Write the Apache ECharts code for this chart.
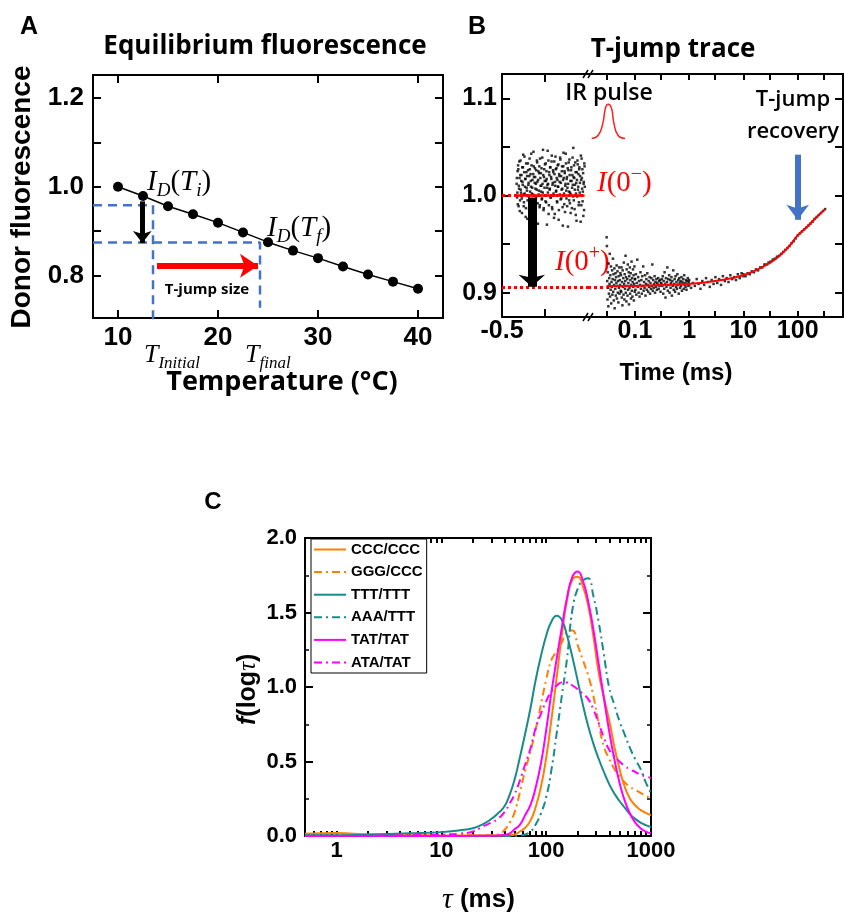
<!DOCTYPE html>
<html>
<head>
<meta charset="utf-8">
<script src="https://cdn.jsdelivr.net/npm/echarts@6/dist/echarts.min.js"></script>
<style>
  html, body { margin: 0; padding: 0; background: #fff; }
  #chart { width: 844px; height: 913px; }
</style>
</head>
<body>
<div id="chart"></div>
<script>
const SANS = '"Liberation Sans", Arial, sans-serif';
const OPEN = '"Open Sans", sans-serif';
const SERIF = '"Liberation Serif", "DejaVu Serif", serif';

// ---- panel A: equilibrium donor fluorescence ----
const tempC = [10, 12.5, 15, 17.5, 20, 22.5, 25, 27.5, 30, 32.5, 35, 37.5, 40];
const donorF = [1.0, 0.979, 0.956, 0.938, 0.919, 0.897, 0.875, 0.856, 0.839, 0.820, 0.802, 0.786, 0.770];
const tempLabels = [10, 20, 30, 40];
const donorLabels = [0.8, 1.0, 1.2];
const donorTicks = [0.8, 0.9, 1.0, 1.1, 1.2];
const guideInitial = [[7.5, 0.958], [13.5, 0.958], [13.5, 0.688]];
const guideFinal = [[7.5, 0.874], [24.2, 0.874], [24.2, 0.727]];

// ---- panel B: T-jump trace ----
// before the pulse (linear time, ms)
const preF = [
  1.012, 0.998, 1.025, 1.031, 0.989, 1.007, 1.018, 0.995, 1.036, 1.003,
  1.021, 0.982, 1.014, 1.029, 1.001, 0.993, 1.040, 1.009, 1.017, 0.987,
  1.024, 1.005, 0.976, 1.033, 1.011, 0.999, 1.020, 1.027, 0.991, 1.015,
  1.043, 1.002, 1.008, 0.984, 1.022, 1.030, 0.996, 1.013, 1.019, 0.979,
  1.026, 1.006, 1.034, 0.992, 1.016, 1.001, 1.023, 0.988, 1.038, 1.010,
  1.004, 1.028, 0.997, 1.012, 1.047, 0.985, 1.019, 1.008, 1.032, 0.994,
  1.015, 1.025, 0.970, 1.011, 1.003, 1.036, 0.990, 1.021, 1.007, 1.029,
  0.998, 1.017, 1.041, 0.986, 1.013, 1.024, 1.000, 1.035, 0.981, 1.010,
  1.027, 1.005, 1.018, 0.993, 1.031, 1.009, 0.975, 1.022, 1.014, 1.039,
  0.996, 1.020, 1.006, 1.030, 0.988, 1.016, 1.044, 1.002, 1.025, 0.983,
  1.012, 1.033, 0.997, 1.019, 1.008, 0.968, 1.026, 1.004, 1.037, 0.992,
  1.015, 1.001, 1.029, 0.987, 1.021, 1.011, 1.049, 0.995, 1.018, 1.006,
  1.034, 0.980, 1.013, 1.024, 0.999, 1.032, 1.009, 0.990, 1.027, 1.003,
  1.020, 0.973, 1.016, 1.038, 1.007, 0.994, 1.023, 1.012, 0.985, 1.030,
  1.018, 1.003, 0.991, 1.027, 1.010, 1.035, 0.984, 1.021, 1.006, 1.015,
  0.997, 1.029, 1.011, 1.042, 0.989, 1.024, 1.002, 1.017, 0.978, 1.033,
  1.008, 1.020, 0.995, 1.026, 1.013, 0.986, 1.038, 1.004, 1.022, 1.009,
  1.031, 0.992, 1.016, 1.001, 1.045, 1.019, 0.983, 1.028, 1.007, 1.012,
  0.999, 1.036, 1.014, 0.971, 1.025, 1.005, 1.030, 0.990, 1.018, 1.023,
  1.010, 0.996, 1.039, 1.003, 1.021, 0.987, 1.027, 1.015, 1.000, 1.033,
  0.993, 1.017, 1.008, 1.046, 1.012, 0.981, 1.024, 1.006, 1.029, 0.998,
  1.019, 1.035, 0.988, 1.011, 1.026, 1.002, 0.977, 1.022, 1.014, 1.040,
  1.004, 1.028, 0.994, 1.016, 1.009, 1.032, 0.985, 1.020, 1.001, 1.037,
  1.013, 0.997, 1.025, 1.007, 0.969, 1.030, 1.018, 0.991, 1.023, 1.010,
  1.043, 1.005, 1.017, 0.989, 1.028, 1.012, 1.034, 0.995, 1.021, 1.003,
  0.982, 1.026, 1.015, 1.008, 1.039, 0.999, 1.019, 1.031, 0.986, 1.011,
  1.024, 1.002, 0.974, 1.016, 1.036, 1.006, 1.022, 0.993, 1.029, 1.013,
  1.000, 1.041, 0.990, 1.018, 1.027, 1.004, 0.979, 1.014, 1.033, 1.009
];
const preStart = -0.415, preEnd = -0.02;
// after the pulse, log-binned
const post1 = [ // 0.03 - 0.1 ms
  0.957, 0.948, 0.912, 0.893, 0.921, 0.905, 0.886, 0.930, 0.899, 0.915,
  0.909, 0.940, 0.896, 0.918, 0.903, 0.927, 0.889, 0.911, 0.906, 0.923,
  0.898, 0.914, 0.935, 0.901, 0.919, 0.892, 0.908, 0.925, 0.884, 0.913,
  0.904, 0.920, 0.897, 0.916, 0.910, 0.928, 0.894, 0.907, 0.922, 0.900,
  0.912, 0.890, 0.917, 0.905, 0.926, 0.899, 0.913, 0.908, 0.920, 0.902,
  0.918, 0.901, 0.926, 0.895, 0.911, 0.887, 0.923, 0.906, 0.915, 0.898,
  0.931, 0.909, 0.893, 0.919, 0.904, 0.912, 0.938, 0.900, 0.916, 0.891,
  0.924, 0.907, 0.914, 0.897, 0.929, 0.903, 0.910, 0.921, 0.888, 0.917,
  0.905, 0.926, 0.899, 0.913, 0.920, 0.894, 0.908, 0.932, 0.902, 0.915,
  0.896, 0.911, 0.924, 0.906, 0.918, 0.892, 0.909, 0.927, 0.901, 0.914
];
const post2 = [ // 0.1 - 1 ms
  0.914, 0.903, 0.919, 0.898, 0.910, 0.934, 0.906, 0.916, 0.900, 0.912,
  0.896, 0.908, 0.921, 0.904, 0.913, 0.899, 0.917, 0.907, 0.927, 0.902,
  0.911, 0.905, 0.918, 0.897, 0.909, 0.914, 0.903, 0.920, 0.908, 0.901,
  0.912, 0.906, 0.916, 0.899, 0.910, 0.904, 0.915, 0.907, 0.929, 0.902,
  0.913, 0.905, 0.909, 0.917, 0.900, 0.911, 0.906, 0.914, 0.903, 0.910,
  0.908, 0.915, 0.904, 0.912, 0.907, 0.913, 0.901, 0.910, 0.909, 0.914,
  0.907, 0.917, 0.899, 0.912, 0.904, 0.921, 0.909, 0.895, 0.915, 0.906,
  0.911, 0.926, 0.902, 0.914, 0.908, 0.918, 0.900, 0.913, 0.905, 0.910,
  0.916, 0.897, 0.912, 0.907, 0.923, 0.903, 0.909, 0.914, 0.901, 0.917,
  0.906, 0.911, 0.904, 0.919, 0.908, 0.913, 0.899, 0.915, 0.910, 0.905,
  0.912, 0.907, 0.916, 0.902, 0.911, 0.909, 0.914, 0.904, 0.918, 0.908,
  0.910, 0.906, 0.913, 0.903, 0.912, 0.909, 0.915, 0.907, 0.911, 0.908
];
const post3 = [ // 1 - 10 ms
  0.913, 0.905, 0.910, 0.907, 0.914, 0.909, 0.904, 0.912, 0.908, 0.915,
  0.911, 0.906, 0.913, 0.909, 0.916, 0.910, 0.914, 0.908, 0.917, 0.912,
  0.915, 0.911, 0.918, 0.914, 0.916, 0.913, 0.919, 0.915, 0.920, 0.917
];
const post4 = [ // 10 - 320 ms
  0.919, 0.917, 0.920, 0.919, 0.922, 0.921, 0.924, 0.923, 0.926, 0.926,
  0.929, 0.929, 0.931, 0.932, 0.934, 0.935, 0.937, 0.938, 0.940, 0.942,
  0.944, 0.946, 0.948, 0.951, 0.953, 0.956, 0.959, 0.961, 0.963, 0.965,
  0.967, 0.969, 0.971, 0.973, 0.976, 0.978, 0.980, 0.982, 0.984, 0.986
];
const postRanges = [[0.03, 0.1], [0.1, 1], [1, 10], [10, 320]];
const fitT = [0.03, 0.1, 0.3, 1, 3, 10, 20, 40, 70, 100, 150, 200, 320];
const fitF = [0.907, 0.907, 0.908, 0.909, 0.912, 0.918, 0.925, 0.935, 0.948, 0.959, 0.968, 0.975, 0.986];
const preFitT = [-0.415, -0.02];
const preFitF = [1.0, 1.0];
const pulseT = [0.0159, 0.021, 0.0254, 0.028, 0.030, 0.0322, 0.0346, 0.0376, 0.041, 0.0486, 0.0654];
const pulseF = [1.0587, 1.062, 1.074, 1.088, 1.093, 1.094, 1.093, 1.088, 1.074, 1.062, 1.0587];
const timeLabels = [0.1, 1, 10, 100];
const timeTicks = [0.03, 0.1, 0.3, 1, 3, 10, 30, 100, 300];
const traceLabels = [0.9, 1.0, 1.1];
const traceTicks = [0.9, 0.95, 1.0, 1.05, 1.1];

// ---- panel C: lifetime distributions f(log tau) ----
const tauGrid = [0.5, 1, 2, 5, 10, 15, 20, 25, 30, 35, 40, 45, 50, 56, 63, 71, 79, 89, 100, 112,
  126, 141, 158, 178, 200, 224, 251, 282, 316, 355, 398, 447, 501, 562, 631, 708, 794, 891, 1000];
const cccF = [0.015, 0.02, 0.01, 0.005, 0.004, 0.003, 0.003, 0.003, 0.003, 0.003,
  0.005, 0.006, 0.01, 0.03, 0.055, 0.105, 0.19, 0.328, 0.525, 0.777,
  1.065, 1.35, 1.585, 1.722, 1.74, 1.675, 1.55, 1.34, 1.10, 0.93,
  0.78, 0.60, 0.45, 0.33, 0.25, 0.205, 0.175, 0.155, 0.14];
const gggF = [0.005, 0.005, 0.005, 0.005, 0.005, 0.005, 0.005, 0.005, 0.005, 0.01,
  0.04, 0.09, 0.16, 0.29, 0.44, 0.57, 0.71, 0.88, 1.05, 1.18,
  1.24, 1.30, 1.37, 1.38, 1.28, 1.18, 1.08, 0.94, 0.76, 0.60,
  0.52, 0.45, 0.40, 0.36, 0.33, 0.31, 0.29, 0.27, 0.25];
const tttF = [0.005, 0.005, 0.01, 0.018, 0.026, 0.038, 0.052, 0.08, 0.115, 0.155,
  0.20, 0.28, 0.38, 0.525, 0.686, 0.862, 1.04, 1.206, 1.344, 1.438,
  1.479, 1.45, 1.345, 1.20, 1.04, 0.88, 0.74, 0.62, 0.52, 0.43,
  0.35, 0.285, 0.235, 0.19, 0.145, 0.115, 0.09, 0.073, 0.06];
const aaaF = [0, 0, 0, 0, 0, 0, 0, 0, 0, 0,
  0, 0, 0, 0.003, 0.01, 0.03, 0.075, 0.15, 0.26, 0.44,
  0.69, 0.94, 1.19, 1.52, 1.66, 1.715, 1.73, 1.61, 1.44, 1.22,
  1.00, 0.88, 0.77, 0.68, 0.59, 0.515, 0.45, 0.36, 0.29];
const tatF = [0, 0, 0, 0, 0, 0, 0.001, 0.001, 0.002, 0.003,
  0.0085, 0.018, 0.045, 0.075, 0.14, 0.21, 0.32, 0.485, 0.71, 0.96,
  1.19, 1.40, 1.60, 1.74, 1.775, 1.713, 1.578, 1.386, 1.161, 0.928,
  0.708, 0.515, 0.357, 0.236, 0.149, 0.09, 0.052, 0.03, 0.018];
const ataF = [0, 0, 0.002, 0.005, 0.01, 0.016, 0.03, 0.065, 0.09, 0.118,
  0.16, 0.22, 0.28, 0.37, 0.48, 0.59, 0.72, 0.82, 0.905, 0.97,
  1.01, 1.03, 1.03, 1.01, 0.985, 0.955, 0.92, 0.85, 0.76, 0.66,
  0.58, 0.535, 0.50, 0.47, 0.447, 0.43, 0.41, 0.40, 0.39];
const tauLabels = [1, 10, 100, 1000];
const tauTicks = [0.6, 0.7, 0.8, 0.9, 1, 2, 3, 4, 5, 6, 7, 8, 9, 10, 20, 30, 40, 50, 60, 70, 80, 90,
  100, 200, 300, 400, 500, 600, 700, 800, 900, 1000];

const ORANGE = '#ff7f00', TEAL = '#1a8a8a', MAGENTA = '#ff00ff';
const DASHDOT = [8, 4, 2, 4];

const zip = (xs, ys) => xs.map((x, i) => [x, ys[i]]);

// sampling clock of the recorder: evenly spaced (linear before, log-binned after)
const preData = preF.map((f, i) => [preStart + (preEnd - preStart) * (i % 140) / 139 + (i >= 140 ? 0.0014 : 0), f]);
const postData = [];
[post1, post2, post3, post4].forEach((seg, k) => {
  const [lo, hi] = postRanges[k];
  seg.forEach((f, i) => postData.push([lo * Math.pow(hi / lo, i / (seg.length - 1)), f]));
});

function ax(o) {
  const a = {
    type: o.type || 'value', gridIndex: o.grid, position: o.pos, min: o.min, max: o.max,
    axisLine: { show: o.line !== false, onZero: false, lineStyle: { color: '#000', width: 2 } },
    axisTick: o.ticks ? { show: true, inside: true, length: o.len || 8, customValues: o.ticks,
      lineStyle: { color: '#000', width: 2 } } : { show: false },
    axisLabel: o.labels ? { show: true, customValues: o.labels, formatter: o.fmt || (v => String(v)), color: '#000',
      fontFamily: SANS, fontWeight: 'bold', fontSize: o.fs || 22, margin: o.margin || 8 } : { show: false },
    splitLine: { show: false }
  };
  if (a.type === 'log') a.logBase = 10;
  return a;
}
const fix1 = v => Number(v).toFixed(1);

function txt(text, x, y, font, extra) {
  return {
    type: 'text', x, y, silent: true,
    style: Object.assign({ text, font, fill: '#000', align: 'center', verticalAlign: 'middle',
      textAlign: 'center', textVerticalAlign: 'middle' }, extra || {})
  };
}
function rich(text, x, y, richStyles, color, rotation) {
  const el = {
    type: 'text', x, y, silent: true,
    style: { text, rich: richStyles, fill: color || '#000', align: 'left', verticalAlign: 'middle',
      textAlign: 'left', textVerticalAlign: 'middle' }
  };
  if (rotation) el.rotation = rotation;
  return el;
}
const mathRich = (size, color) => ({
  i: { font: `italic ${size}px ${SERIF}`, fill: color, lineHeight: size + 8, verticalAlign: 'middle' },
  p: { font: `${size}px ${SERIF}`, fill: color, lineHeight: size + 8, verticalAlign: 'middle' },
  sub: { font: `italic ${Math.round(size * 0.65)}px ${SERIF}`, fill: color, lineHeight: size + 8, verticalAlign: 'bottom' },
  sup: { font: `${Math.round(size * 0.7)}px ${SERIF}`, fill: color, lineHeight: size + 8, verticalAlign: 'top' }
});

function arrow(xi, yi, from, to, color, width, head) {
  return {
    type: 'line', xAxisIndex: xi, yAxisIndex: yi, data: [], clip: false, silent: true, z: 6,
    markLine: {
      silent: true, animation: false, symbol: ['none', 'arrow'], symbolSize: head,
      label: { show: false },
      lineStyle: { color, width, type: 'solid' },
      data: [[{ coord: from }, { coord: to }]]
    }
  };
}
function curve(name, f, color, dashed) {
  return {
    name, type: 'line', xAxisIndex: 6, yAxisIndex: 4, data: zip(tauGrid, f), symbol: 'none',
    smooth: 0.5, lineStyle: { color, width: 2, type: dashed ? DASHDOT : 'solid' }, itemStyle: { color }
  };
}
const cTicks = {
  interval: 0.5,
  axisTick: { show: true, inside: true, length: 8, lineStyle: { color: '#000', width: 2 } },
  minorTick: { show: true, splitNumber: 2, length: 4, lineStyle: { color: '#000', width: 1.5 } }
};

const chart = echarts.init(document.getElementById('chart'));
chart.setOption({
  animation: false,
  backgroundColor: '#fff',
  grid: [
    { left: 93, top: 75, width: 350, height: 243 },
    { left: 502, top: 74, width: 86, height: 243 },
    { left: 588, top: 74, width: 255, height: 243 },
    { left: 305, top: 538, width: 346, height: 298 }
  ],
  xAxis: [
    ax({ grid: 0, pos: 'bottom', min: 7.5, max: 42.5, ticks: tempLabels, labels: tempLabels, fs: 26, margin: 7 }),
    ax({ grid: 0, pos: 'top', min: 7.5, max: 42.5, ticks: tempLabels }),
    ax({ grid: 1, pos: 'bottom', min: -0.5, max: 0, ticks: [-0.25], labels: [-0.5], fs: 25, margin: 2 }),
    ax({ grid: 1, pos: 'top', min: -0.5, max: 0, ticks: [-0.25] }),
    ax({ grid: 2, type: 'log', pos: 'bottom', min: 0.0136, max: 685, ticks: timeTicks, labels: timeLabels, len: 6, fs: 25, margin: 2 }),
    ax({ grid: 2, type: 'log', pos: 'top', min: 0.0136, max: 685, ticks: timeTicks, len: 6 }),
    ax({ grid: 3, type: 'log', pos: 'bottom', min: 0.5, max: 1000, ticks: tauTicks, labels: tauLabels, len: 5, fs: 22, margin: 4 }),
    ax({ grid: 3, type: 'log', pos: 'top', min: 0.5, max: 1000, ticks: tauTicks, len: 5 })
  ],
  yAxis: [
    ax({ grid: 0, pos: 'left', min: 0.704, max: 1.252, ticks: donorTicks, labels: donorLabels, fmt: fix1, fs: 26, margin: 9 }),
    ax({ grid: 0, pos: 'right', min: 0.704, max: 1.252, ticks: donorTicks }),
    ax({ grid: 1, pos: 'left', min: 0.875, max: 1.125, ticks: traceTicks, labels: traceLabels, fmt: fix1, fs: 25, margin: 5 }),
    ax({ grid: 2, pos: 'right', min: 0.875, max: 1.125, ticks: traceTicks }),
    Object.assign(ax({ grid: 3, pos: 'left', min: 0, max: 2 }), cTicks, {
      axisLabel: { show: true, formatter: fix1, color: '#000', fontFamily: SANS, fontWeight: 'bold', fontSize: 22, margin: 8 }
    }),
    Object.assign(ax({ grid: 3, pos: 'right', min: 0, max: 2 }), cTicks)
  ],
  legend: {
    left: 311, top: 539, orient: 'vertical',
    itemWidth: 32, itemHeight: 12, itemGap: 7.6,
    padding: [3, 4, 3, 2],
    borderColor: '#000', borderWidth: 1, backgroundColor: '#fff',
    itemStyle: { opacity: 0 },
    textStyle: { fontFamily: SANS, fontWeight: 'bold', fontSize: 15, color: '#000' },
    data: ['CCC/CCC', 'GGG/CCC', 'TTT/TTT', 'AAA/TTT', 'TAT/TAT', 'ATA/TAT']
  },
  series: [
    // panel A
    { type: 'line', xAxisIndex: 0, yAxisIndex: 0, clip: false, silent: true, symbol: 'none',
      lineStyle: { color: '#4472c4', width: 2.5, type: [9, 6] }, data: guideInitial, z: 3 },
    { type: 'line', xAxisIndex: 0, yAxisIndex: 0, clip: false, silent: true, symbol: 'none',
      lineStyle: { color: '#4472c4', width: 2.5, type: [9, 6] }, data: guideFinal, z: 3 },
    { type: 'line', xAxisIndex: 0, yAxisIndex: 0, data: zip(tempC, donorF), symbol: 'circle', symbolSize: 10,
      itemStyle: { color: '#000' }, lineStyle: { color: '#000', width: 1.5 }, z: 5 },
    arrow(0, 0, [12.43, 0.967], [12.43, 0.873], '#000', 5, [14, 12]),
    arrow(0, 0, [13.9, 0.822], [24.0, 0.822], '#ff0000', 6, [18, 18]),

    // panel B, before the pulse
    { type: 'scatter', xAxisIndex: 2, yAxisIndex: 2, data: preData, symbol: 'rect', symbolSize: 2.5,
      itemStyle: { color: '#000' }, z: 3 },
    { type: 'line', xAxisIndex: 2, yAxisIndex: 2, clip: false, silent: true, symbol: 'none',
      data: zip(preFitT, preFitF), lineStyle: { color: '#ff0000', width: 2.5 }, z: 5,
      markLine: {
        silent: true, symbol: 'none', label: { show: false },
        lineStyle: { color: '#ff0000', width: 3, type: [3, 3] },
        data: [
          [{ coord: [-0.5, 1.0] }, { coord: [-0.02, 1.0] }],
          [{ coord: [-0.5, 0.906] }, { coord: [0, 0.906] }]
        ]
      } },
    arrow(2, 2, [-0.327, 0.998], [-0.327, 0.906], '#000', 9, [20, 12]),

    // panel B, after the pulse
    { type: 'scatter', xAxisIndex: 4, yAxisIndex: 3, data: postData, symbol: 'rect', symbolSize: 2.5,
      itemStyle: { color: '#000' }, z: 3 },
    { type: 'line', xAxisIndex: 4, yAxisIndex: 3, clip: false, silent: true, symbol: 'none', smooth: true,
      data: zip(fitT, fitF), lineStyle: { color: '#ff0000', width: 2 }, z: 5,
      markLine: {
        silent: true, symbol: 'none', label: { show: false },
        lineStyle: { color: '#ff0000', width: 3, type: [3, 3] },
        data: [[{ coord: [0.0136, 0.906] }, { coord: [0.03, 0.906] }]]
      } },
    { type: 'line', xAxisIndex: 4, yAxisIndex: 3, silent: true, symbol: 'none', smooth: true,
      data: zip(pulseT, pulseF), lineStyle: { color: '#ff2020', width: 1.5 }, z: 5 },
    arrow(4, 3, [100, 1.042], [100, 0.975], '#4472c4', 6, [17, 15]),

    // panel C
    curve('CCC/CCC', cccF, ORANGE, false),
    curve('GGG/CCC', gggF, ORANGE, true),
    curve('TTT/TTT', tttF, TEAL, false),
    curve('AAA/TTT', aaaF, TEAL, true),
    curve('TAT/TAT', tatF, MAGENTA, false),
    curve('ATA/TAT', ataF, MAGENTA, true)
  ],
  graphic: [
    txt('A', 29, 27, `bold 25px ${SANS}`),
    txt('B', 477, 27, `bold 25px ${SANS}`),
    txt('C', 213, 502, `bold 24px ${SANS}`),
    txt('Equilibrium fluorescence', 265, 47, `bold 26px ${OPEN}`),
    txt('T-jump trace', 673, 50, `bold 26px ${OPEN}`),
    Object.assign(txt('Donor fluorescence', 22, 197, `bold 28px ${SANS}`), { rotation: Math.PI / 2 }),
    txt('Temperature (\u00B0C)', 282, 382, `bold 27px ${OPEN}`),
    txt('T-jump size', 207, 290, `bold 15px ${OPEN}`),
    rich('{i|I}{sub|D}{p|(}{i|T}{sub|i}{p|)}', 147, 182, mathRich(29, '#000')),
    rich('{i|I}{sub|D}{p|(}{i|T}{sub|f}{p|)}', 267, 228, mathRich(29, '#000')),
    rich('{i|T}{sub|Initial}', 144, 355, mathRich(26, '#000')),
    rich('{i|T}{sub|final}', 245, 355, mathRich(26, '#000')),
    txt('IR pulse', 609, 93, `600 23px ${OPEN}`),
    txt('T-jump', 793, 100, `600 22px ${OPEN}`),
    txt('recovery', 793, 132, `600 22px ${OPEN}`),
    rich('{i|I}{p|(0}{sup|\u2212}{p|)}', 597, 183, mathRich(29, '#ff0000'), '#ff0000'),
    rich('{i|I}{p|(0}{sup|+}{p|)}', 555, 262, mathRich(29, '#ff0000'), '#ff0000'),
    txt('Time (ms)', 676, 373, `bold 24px ${SANS}`),
    { type: 'line', silent: true, shape: { x1: 583, y1: 78, x2: 588, y2: 70 }, style: { stroke: '#000', lineWidth: 1.5 } },
    { type: 'line', silent: true, shape: { x1: 588, y1: 78, x2: 593, y2: 70 }, style: { stroke: '#000', lineWidth: 1.5 } },
    { type: 'line', silent: true, shape: { x1: 583, y1: 321, x2: 588, y2: 313 }, style: { stroke: '#000', lineWidth: 1.5 } },
    { type: 'line', silent: true, shape: { x1: 588, y1: 321, x2: 593, y2: 313 }, style: { stroke: '#000', lineWidth: 1.5 } },
    rich('{f|f}{b|(log}{t|\u03C4}{b|)}', 248, 725, {
      f: { font: `italic bold 25px ${SANS}`, lineHeight: 32 },
      b: { font: `bold 25px ${SANS}`, lineHeight: 32 },
      t: { font: `italic 25px ${SERIF}`, lineHeight: 32 }
    }, '#000', Math.PI / 2),
    rich('{t|\u03C4}{b| (ms)}', 442, 900, {
      t: { font: `italic 30px ${SERIF}`, lineHeight: 34 },
      b: { font: `bold 26px ${SANS}`, lineHeight: 34 }
    })
  ]
});
</script>
</body>
</html>
